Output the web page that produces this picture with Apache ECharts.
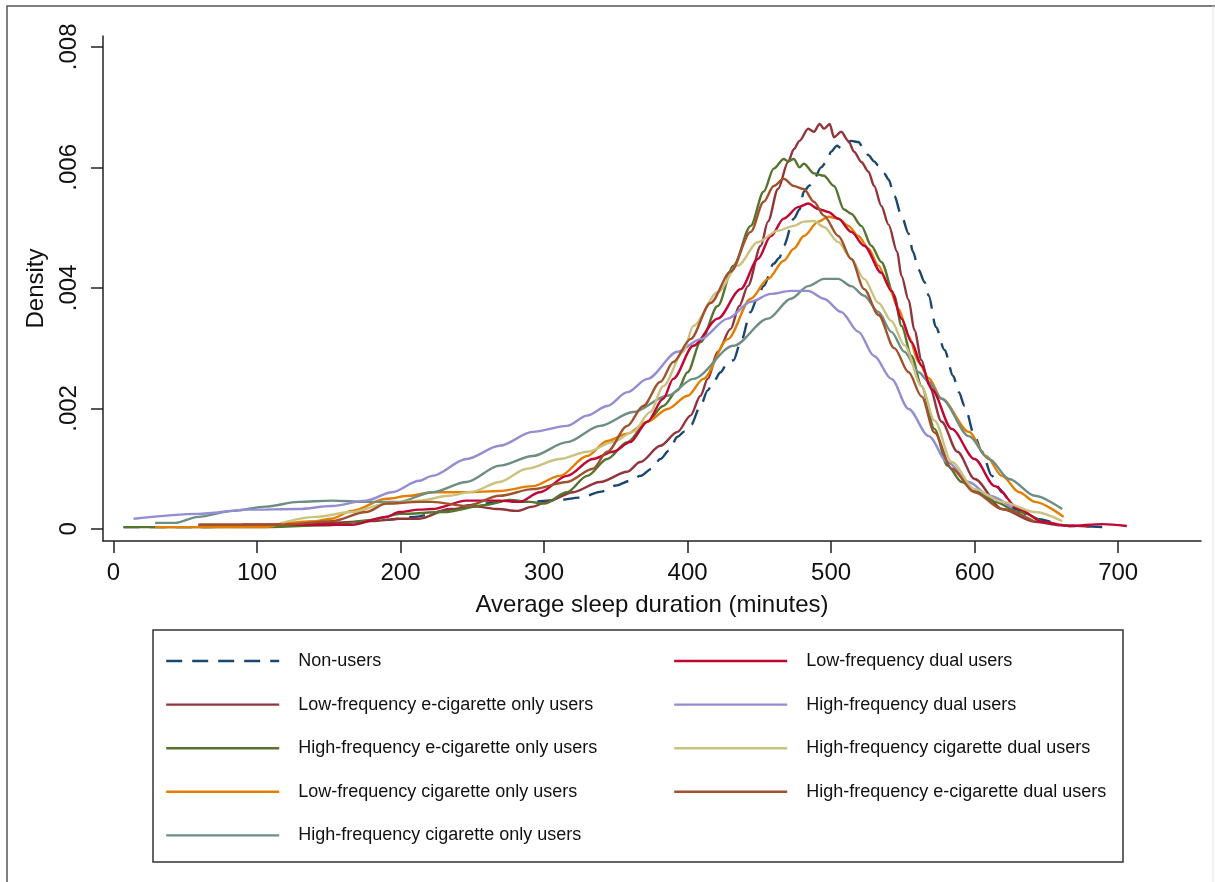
<!DOCTYPE html>
<html><head><meta charset="utf-8">
<script src="https://cdn.jsdelivr.net/npm/echarts@6/dist/echarts.min.js"></script>
<style>html,body{margin:0;padding:0;background:#fff}#c{width:1215px;height:882px}</style>
</head><body><div id="c"></div>
<script>
// ---------- data ----------
const seriesNames = [
  'Non-users',
  'Low-frequency e-cigarette only users',
  'High-frequency e-cigarette only users',
  'Low-frequency cigarette only users',
  'High-frequency cigarette only users',
  'Low-frequency dual users',
  'High-frequency dual users',
  'High-frequency cigarette dual users',
  'High-frequency e-cigarette dual users'
];
const xTicks = [0, 100, 200, 300, 400, 500, 600, 700];
const yTicks = [0, 0.002, 0.004, 0.006, 0.008];
const yTickLabels = ['0', '.002', '.004', '.006', '.008'];
const xTitle = 'Average sleep duration (minutes)';
const yTitle = 'Density';

const nonUsers = [[7,0.00003],[30,0.00003],[60,0.00003],[100,0.00005],[130,0.00006],[160,0.0001],[190,0.00015],[210,0.0002],[230,0.0003],[250,0.0004],[270,0.00045],[290,0.00045],[310,0.00048],[325,0.00052],[340,0.00062],[350,0.00072],[360,0.0008],[367,0.00088],[375,0.001],[381,0.00116],[387,0.0013],[393,0.00153],[398,0.00162],[402,0.00171],[409,0.00204],[414,0.0023],[418,0.00244],[423,0.0026],[428,0.00277],[432,0.0028],[437,0.0031],[444,0.0036],[448,0.0038],[453,0.00403],[460,0.0044],[464,0.0045],[467,0.0047],[474,0.00515],[478,0.0053],[481,0.0056],[485,0.0057],[488,0.0058],[493,0.006],[497,0.0061],[500,0.00626],[504,0.00636],[507,0.00632],[510,0.0064],[514,0.00644],[519,0.00642],[523,0.0063],[526,0.0062],[530,0.0061],[533,0.00603],[537,0.0059],[540,0.0058],[544,0.00553],[549,0.0052],[554,0.0049],[557,0.0046],[561,0.0043],[565,0.0041],[568,0.00387],[573,0.00335],[579,0.00297],[585,0.00254],[589,0.00227],[593,0.00204],[600,0.00154],[605,0.00128],[612,0.00088],[619,0.00061],[628,0.00033],[642,0.00017],[666,0.00005],[691,0.00003]];
const lowEcigOnly = [[60,0.00007],[100,0.00007],[150,0.0001],[180,0.00013],[200,0.00017],[213,0.00017],[234,0.00033],[253,0.00037],[268,0.00033],[281,0.0003],[292,0.00037],[302,0.00045],[320,0.00061],[339,0.00078],[358,0.00095],[367,0.00111],[381,0.00138],[393,0.00161],[402,0.00188],[409,0.00221],[414,0.00249],[421,0.00294],[430,0.00332],[436,0.0037],[442,0.00403],[451,0.0047],[456,0.0051],[463,0.00564],[470,0.00609],[474,0.0063],[478,0.00644],[484,0.00664],[488,0.00659],[492,0.00672],[495,0.00664],[499,0.00672],[502,0.0065],[507,0.00659],[512,0.00644],[516,0.00626],[521,0.00609],[526,0.00593],[530,0.00569],[535,0.00536],[540,0.00505],[546,0.0046],[549,0.0042],[554,0.0038],[558,0.0033],[563,0.0028],[568,0.0024],[577,0.00178],[588,0.00128],[600,0.00083],[619,0.00033],[642,0.00012],[660,0.00006],[680,0.00004]];
const highEcigOnly = [[7,0.00003],[50,0.00003],[100,0.00003],[150,0.00006],[180,0.00015],[200,0.00025],[230,0.00028],[260,0.0004],[276,0.00048],[290,0.00045],[300,0.00042],[316,0.00061],[330,0.00088],[344,0.00116],[358,0.00144],[372,0.00178],[383,0.00204],[393,0.0023],[400,0.0026],[409,0.0031],[421,0.0037],[432,0.00437],[444,0.00503],[453,0.0056],[460,0.00598],[467,0.00614],[470,0.0061],[474,0.00614],[478,0.006],[481,0.00606],[488,0.0059],[495,0.00586],[502,0.00569],[509,0.0053],[514,0.00523],[521,0.00503],[528,0.0047],[535,0.00443],[544,0.00387],[549,0.00337],[556,0.00287],[563,0.00237],[572,0.00166],[581,0.00105],[591,0.00078],[603,0.00061],[614,0.00045],[631,0.00028],[647,0.00012]];
const lowCigOnly = [[29,0.00003],[60,0.00003],[106,0.00003],[120,0.0001],[140,0.00013],[152,0.00017],[166,0.0003],[190,0.0005],[206,0.00055],[222,0.00061],[246,0.00061],[269,0.00063],[292,0.00071],[311,0.00088],[330,0.00121],[344,0.00146],[358,0.00158],[372,0.00178],[386,0.00199],[400,0.00221],[411,0.00249],[428,0.00315],[444,0.00382],[456,0.00415],[467,0.00445],[474,0.00465],[481,0.00486],[491,0.0051],[498,0.00518],[505,0.00515],[512,0.00503],[519,0.00486],[526,0.00465],[533,0.00437],[540,0.00403],[547,0.00365],[554,0.0032],[561,0.00277],[568,0.0025],[577,0.00216],[596,0.00161],[608,0.00121],[619,0.00088],[631,0.00061],[642,0.00045],[662,0.0002]];
const highCigOnly = [[29,0.0001],[43,0.0001],[59,0.0002],[83,0.0003],[106,0.00037],[129,0.00045],[152,0.00047],[176,0.00045],[199,0.00045],[222,0.00061],[246,0.00078],[269,0.00105],[292,0.00121],[316,0.00144],[339,0.00171],[362,0.00194],[386,0.00221],[404,0.00249],[432,0.00304],[456,0.00349],[472,0.00382],[484,0.00403],[495,0.00415],[505,0.00415],[514,0.00403],[523,0.00387],[533,0.0036],[542,0.00327],[551,0.00294],[561,0.0026],[568,0.00244],[577,0.00216],[596,0.00154],[610,0.00116],[624,0.00083],[642,0.00055],[661,0.00033]];
const lowDual = [[90,0.00007],[130,0.00007],[166,0.00007],[190,0.0002],[199,0.00028],[213,0.00032],[222,0.00033],[246,0.00047],[269,0.00047],[283,0.00045],[297,0.00061],[316,0.00088],[334,0.00116],[348,0.00128],[360,0.00144],[372,0.00178],[383,0.00216],[390,0.00249],[404,0.00304],[421,0.00349],[437,0.00398],[449,0.00448],[458,0.00486],[467,0.00515],[477,0.00534],[484,0.0054],[491,0.00531],[498,0.00526],[505,0.00515],[514,0.00493],[523,0.0047],[535,0.00425],[542,0.00395],[549,0.00349],[556,0.0031],[563,0.00271],[570,0.00232],[584,0.00166],[600,0.00116],[614,0.00071],[631,0.00033],[647,0.00012],[666,0.00005],[689,0.00008],[706,0.00005]];
const highDual = [[14,0.00017],[59,0.00025],[94,0.00032],[129,0.00033],[152,0.00038],[176,0.00047],[194,0.00061],[213,0.0008],[222,0.00088],[246,0.00116],[269,0.00138],[292,0.00161],[316,0.00171],[330,0.00188],[344,0.00204],[358,0.00227],[372,0.00249],[393,0.00294],[409,0.00315],[428,0.00349],[444,0.00377],[458,0.0039],[472,0.00395],[484,0.00395],[495,0.00382],[507,0.0036],[519,0.00327],[530,0.00287],[542,0.00249],[554,0.00199],[568,0.00154],[581,0.00111],[596,0.00078],[610,0.00055],[626,0.00035]];
const highCigDual = [[117,0.0001],[141,0.0002],[166,0.00028],[190,0.00042],[213,0.00047],[234,0.00055],[250,0.00062],[269,0.00078],[288,0.001],[311,0.00116],[330,0.00128],[348,0.00144],[362,0.00161],[374,0.00194],[383,0.00237],[397,0.00294],[404,0.00337],[421,0.00393],[435,0.00437],[449,0.00476],[463,0.00495],[474,0.00503],[481,0.0051],[488,0.00511],[495,0.00501],[505,0.00476],[514,0.00448],[523,0.00415],[533,0.00375],[542,0.00345],[551,0.00305],[563,0.00237],[572,0.0018],[584,0.00111],[600,0.00066],[619,0.00045],[642,0.00028],[661,0.00013]];
const highEcigDual = [[59,0.00007],[90,0.00007],[120,0.00007],[152,0.00013],[176,0.00028],[190,0.00042],[213,0.00045],[222,0.00045],[246,0.00038],[269,0.00055],[292,0.00066],[316,0.00078],[334,0.001],[344,0.00128],[358,0.00171],[369,0.00204],[381,0.00244],[390,0.00277],[402,0.00315],[416,0.00375],[430,0.00427],[444,0.00493],[453,0.00543],[460,0.00569],[467,0.00581],[474,0.00569],[481,0.00564],[488,0.00543],[495,0.0052],[505,0.00486],[514,0.00448],[523,0.00398],[533,0.00355],[544,0.003],[554,0.0026],[563,0.0022],[572,0.0016],[584,0.001],[600,0.00061],[619,0.00033],[642,0.00012]];

const seriesData = [nonUsers, lowEcigOnly, highEcigOnly, lowCigOnly, highCigOnly, lowDual, highDual, highCigDual, highEcigDual];
const colors = ['#1a476f','#90353b','#55752f','#e37e00','#6e8e84','#c10534','#938dd2','#cac27e','#a0522d'];

// ---------- chart ----------
const FONT = '"Liberation Sans", Arial, Helvetica, sans-serif';
const chart = echarts.init(document.getElementById('c'), null, {renderer: 'canvas'});
const series = seriesNames.map((name, i) => ({
  name: name,
  type: 'line',
  data: seriesData[i],
  showSymbol: false,
  symbol: 'none',
  smooth: 0.3,
  smoothMonotone: 'x',
  animation: false,
  color: colors[i],
  lineStyle: {color: colors[i], width: 2.4, type: i === 0 ? [16, 10] : 'solid'},
  z: 2
}));

const legendCommon = {
  orient: 'vertical',
  itemWidth: 113,
  itemHeight: 20,
  itemGap: 23.6,
  selectedMode: false,
  padding: 0,
  itemStyle: {opacity: 0, borderWidth: 0},
  lineStyle: {width: 2.4},
  textStyle: {fontFamily: FONT, fontSize: 18, color: '#111', padding: [0, 0, 0, 14], lineHeight: 20}
};

chart.setOption({
  backgroundColor: '#fff',
  animation: false,
  grid: {left: 103, top: 36, width: 1098, height: 505, containLabel: false},
  xAxis: {
    type: 'value', min: -7.3, max: 757.7,
    name: xTitle, nameLocation: 'middle', nameGap: 52,
    nameTextStyle: {fontFamily: FONT, fontSize: 24, color: '#111'},
    axisLine: {onZero: false, lineStyle: {color: '#222', width: 1.5}},
    axisTick: {customValues: xTicks, length: 12, lineStyle: {color: '#222', width: 1.5}},
    axisLabel: {customValues: xTicks, margin: 20, fontFamily: FONT, fontSize: 24, color: '#111'},
    splitLine: {show: false}
  },
  yAxis: {
    type: 'value', min: -0.0002, max: 0.00818,
    name: yTitle, nameLocation: 'middle', nameGap: 55, nameRotate: 90,
    nameTextStyle: {fontFamily: FONT, fontSize: 24, color: '#111'},
    axisLine: {onZero: false, lineStyle: {color: '#222', width: 1.5}},
    axisTick: {customValues: yTicks, length: 12, lineStyle: {color: '#222', width: 1.5}},
    axisLabel: {
      customValues: yTicks, rotate: 90, margin: 22,
      fontFamily: FONT, fontSize: 24, color: '#111',
      formatter: function (v) {
        let best = 0;
        yTicks.forEach((t, k) => { if (Math.abs(t - v) < Math.abs(yTicks[best] - v)) best = k; });
        return yTickLabels[best];
      }
    },
    splitLine: {show: false}
  },
  legend: [
    Object.assign({}, legendCommon, {data: seriesNames.slice(0, 5), left: 165, top: 651}),
    Object.assign({}, legendCommon, {data: seriesNames.slice(5), left: 673, top: 651})
  ],
  graphic: [
    {type: 'rect', shape: {x: 153, y: 630, width: 970, height: 232}, style: {fill: 'none', stroke: '#333', lineWidth: 1.5}, silent: true},
    {type: 'polyline', shape: {points: [[7, 882], [7, 6], [1215, 6]]}, style: {fill: 'none', stroke: '#555', lineWidth: 1.5}, silent: true},
    {type: 'line', shape: {x1: 1213, y1: 6, x2: 1213, y2: 882}, style: {stroke: '#e4e4e4', lineWidth: 1}, silent: true}
  ],
  series: series
});
</script>
</body></html>
